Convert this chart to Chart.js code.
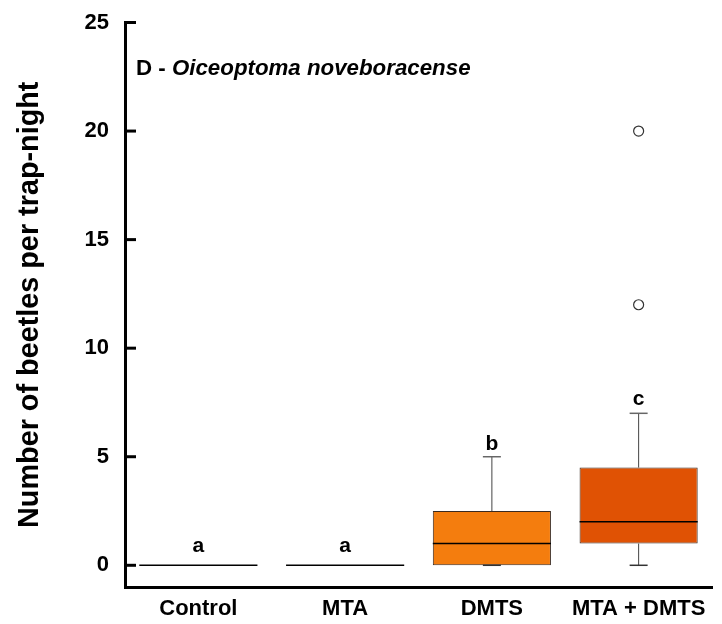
<!DOCTYPE html>
<html>
<head>
<meta charset="utf-8">
<script src="https://cdn.jsdelivr.net/npm/chart.js@4.4.1/dist/chart.umd.min.js"></script>
<style>
  html, body { margin: 0; padding: 0; background: #ffffff; }
  #wrap { width: 722px; height: 624px; position: relative; }
</style>
</head>
<body>
<div id="wrap"><canvas id="c" width="722" height="624"></canvas></div>
<script>
// ---- data ----
const categories = ['Control', 'MTA', 'DMTS', 'MTA + DMTS'];
const whiskerLow  = [0, 0, 0, 0];
const quartile1   = [0, 0, 0, 1];
const medians     = [0, 0, 1, 2];
const quartile3   = [0, 0, 2.5, 4.5];
const whiskerHigh = [0, 0, 5, 7];
const outlierValues = [12, 20];
const outlierCategory = ['MTA + DMTS', 'MTA + DMTS'];
const groupLetters = ['a', 'a', 'b', 'c'];
const yTickValues = [0, 5, 10, 15, 20, 25];
const panelLabel = 'D - ';
const speciesName = 'Oiceoptoma noveboracense';
const yAxisTitle = 'Number of beetles per trap-night';

// ---- styles ----
const boxColors = ['#f47d0e', '#f47d0e', '#f47d0e', '#e05204'];
const letterOffsets = [13, 13, 7, 8];
const FONT = '"Liberation Sans", Arial, Helvetica, sans-serif';

const boxPlugin = {
  id: 'boxExtras',
  afterDatasetsDraw(chart) {
    const ctx = chart.ctx;
    const y = chart.scales.y;
    const meta = chart.getDatasetMeta(0);
    ctx.save();
    meta.data.forEach((bar, i) => {
      const cx = bar.x;
      const half = bar.width / 2;
      const capHalf = 9;
      const yq1 = y.getPixelForValue(quartile1[i]);
      const yq3 = y.getPixelForValue(quartile3[i]);
      const ylo = y.getPixelForValue(whiskerLow[i]);
      const yhi = y.getPixelForValue(whiskerHigh[i]);
      const ymed = y.getPixelForValue(medians[i]);
      // whiskers
      ctx.strokeStyle = '#444444';
      ctx.lineWidth = 1;
      if (whiskerHigh[i] > quartile3[i]) {
        ctx.beginPath(); ctx.moveTo(cx, yq3); ctx.lineTo(cx, yhi); ctx.stroke();
        ctx.strokeStyle = '#666666'; ctx.lineWidth = 1.5;
        ctx.beginPath(); ctx.moveTo(cx - capHalf, yhi); ctx.lineTo(cx + capHalf, yhi); ctx.stroke();
      }
      ctx.strokeStyle = '#444444'; ctx.lineWidth = 1;
      if (quartile3[i] > quartile1[i]) {
        if (whiskerLow[i] < quartile1[i]) {
          ctx.beginPath(); ctx.moveTo(cx, yq1); ctx.lineTo(cx, ylo); ctx.stroke();
        }
        ctx.strokeStyle = '#333333'; ctx.lineWidth = 1.5;
        ctx.beginPath(); ctx.moveTo(cx - capHalf, ylo); ctx.lineTo(cx + capHalf, ylo); ctx.stroke();
      }
      // median
      ctx.strokeStyle = '#000000';
      ctx.lineWidth = 1.5;
      ctx.beginPath(); ctx.moveTo(cx - half, ymed); ctx.lineTo(cx + half, ymed); ctx.stroke();
      // group letters
      ctx.fillStyle = '#000000';
      ctx.font = 'bold 21px ' + FONT;
      ctx.textAlign = 'center';
      ctx.textBaseline = 'alphabetic';
      ctx.fillText(groupLetters[i], cx, yhi - letterOffsets[i]);
    });
    // inner tick marks on y axis
    ctx.strokeStyle = '#000000';
    ctx.lineWidth = 3;
    y.ticks.forEach((t, k) => {
      const py = y.getPixelForTick(k);
      ctx.beginPath(); ctx.moveTo(chart.chartArea.left, py); ctx.lineTo(chart.chartArea.left + 11, py); ctx.stroke();
    });
    // panel label
    const tx = chart.chartArea.left + 11;
    const ty = chart.chartArea.top + 52;
    ctx.textAlign = 'left';
    ctx.textBaseline = 'alphabetic';
    ctx.font = 'bold 22.3px ' + FONT;
    ctx.fillText(panelLabel, tx, ty);
    const w = ctx.measureText(panelLabel).width;
    ctx.font = 'italic bold 22.3px ' + FONT;
    ctx.fillText(speciesName, tx + w, ty);
    ctx.restore();
  }
};

new Chart(document.getElementById('c'), {
  data: {
    labels: categories,
    datasets: [
      {
        type: 'bar',
        data: categories.map((c, i) => [quartile1[i], quartile3[i]]),
        backgroundColor: boxColors,
        borderColor: '#3a2a20',
        borderWidth: 1,
        borderSkipped: false,
        categoryPercentage: 1,
        barPercentage: 0.805,
        order: 2
      },
      {
        type: 'line',
        data: outlierValues.map((v, i) => ({ x: outlierCategory[i], y: v })),
        showLine: false,
        pointStyle: 'circle',
        pointRadius: 5,
        pointBorderWidth: 1.2,
        pointBorderColor: '#333333',
        pointBackgroundColor: '#ffffff',
        order: 1
      }
    ]
  },
  options: {
    responsive: false,
    animation: false,
    devicePixelRatio: 1,
    layout: { padding: { top: 22.5, right: 10, left: 0, bottom: 0 } },
    plugins: { legend: { display: false }, tooltip: { enabled: false } },
    scales: {
      x: {
        type: 'category',
        offset: true,
        grid: { display: false, drawTicks: false },
        border: { display: true, color: '#000000', width: 3 },
        ticks: { color: '#000000', font: { family: FONT, size: 22, weight: 'bold' }, padding: 9, maxRotation: 0 },
        afterFit(s) { s.height = 37; s.paddingLeft = 0; s.paddingRight = 0; }
      },
      y: {
        min: -1,
        max: 25,
        grid: { display: false, drawTicks: false },
        border: { display: true, color: '#000000', width: 3 },
        afterBuildTicks(s) { s.ticks = yTickValues.map(v => ({ value: v })); },
        ticks: { color: '#000000', font: { family: FONT, size: 22, weight: 'bold' }, padding: 16 },
        title: {
          display: true,
          text: yAxisTitle,
          color: '#000000',
          font: { family: FONT, size: 28.8, weight: 'bold' },
          padding: { top: 12.5, bottom: 0 }
        },
        afterFit(s) { s.width = 125; s.paddingTop = 0; s.paddingBottom = 0; }
      }
    }
  },
  plugins: [boxPlugin]
});
</script>
</body>
</html>
